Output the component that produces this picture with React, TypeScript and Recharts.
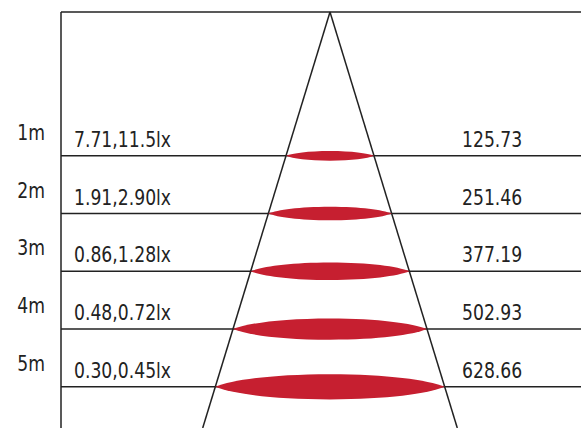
import { ComposedChart, ReferenceLine, Scatter, XAxis, YAxis } from 'recharts';

const distances = [1, 2, 3, 4, 5];
const luxLabels = ['7.71,11.5lx', '1.91,2.90lx', '0.86,1.28lx', '0.48,0.72lx', '0.30,0.45lx'];
const diameters = ['125.73', '251.46', '377.19', '502.93', '628.66'];

const rows = distances.map((d, i) => ({ x: 0, d, lux: luxLabels[i], dia: diameters[i] }));

const W = 581;
const H = 428;
const TOP = 12;
const LEFT = 61;
const Y_MIN = -1.49;
const Y_MAX = 5.713;
const PX = (H - TOP) / (Y_MAX - Y_MIN);
const X_MIN = -(330 - LEFT) / PX;
const X_MAX = X_MIN + (W - LEFT) / PX;
const SPREAD = 0.306;
const FONT = "'DejaVu Sans Condensed', 'DejaVu Sans', sans-serif";
const INK = '#222';
const RED = '#c61f30';
const SQUEEZE = 0.87;

// lens-ish ellipse, a bit pointed at the tips like the source art
const Spot = (props: any) => {
  const { cx, cy, payload } = props;
  const a = SPREAD * (payload.d - Y_MIN) * PX;
  const b = a * 0.11;
  const half = (s: number) =>
    `C${cx - a * 0.85},${cy + s * b * 0.55} ${cx - a * 0.5},${cy + s * b} ${cx},${cy + s * b} ` +
    `C${cx + a * 0.5},${cy + s * b} ${cx + a * 0.85},${cy + s * b * 0.55} ${cx + a},${cy}`;
  const top = `M${cx - a},${cy} ${half(-1)}`;
  const bottom =
    `C${cx + a * 0.85},${cy + b * 0.55} ${cx + a * 0.5},${cy + b} ${cx},${cy + b} ` +
    `C${cx - a * 0.5},${cy + b} ${cx - a * 0.85},${cy + b * 0.55} ${cx - a},${cy} Z`;
  return <path d={`${top} ${bottom}`} fill={RED} />;
};

const Squeezed = ({ x, y, anchor, children }: any) => (
  <text
    transform={`translate(${x},${y}) scale(${SQUEEZE},1)`}
    textAnchor={anchor || 'start'}
    fontFamily={FONT}
    fontSize={22}
    fill={INK}
  >
    {children}
  </text>
);

const RowLabel = (row: any) => (props: any) => {
  const vb = props.viewBox || {};
  return (
    <g>
      <Squeezed x={vb.x + 13} y={vb.y - 9}>{row.lux}</Squeezed>
      <Squeezed x={vb.x + 401} y={vb.y - 9}>{row.dia}</Squeezed>
    </g>
  );
};

const MeterTick = (props: any) => {
  const { x, y, payload } = props;
  return <Squeezed x={x} y={y - 16} anchor="end">{payload.value}m</Squeezed>;
};

export default function App() {
  return (
    <div style={{ position: 'absolute', left: 0, top: 0, background: '#fff' }}>
      <ComposedChart width={W} height={H} data={rows} margin={{ top: TOP, right: 0, bottom: 0, left: 0 }}>
        <XAxis dataKey="x" type="number" domain={[X_MIN, X_MAX]} allowDataOverflow hide />
        <YAxis
          dataKey="d"
          type="number"
          reversed
          width={LEFT}
          domain={[Y_MIN, Y_MAX]}
          allowDataOverflow
          ticks={distances}
          tickLine={false}
          tickSize={0}
          tickMargin={16}
          axisLine={{ stroke: INK, strokeWidth: 1.5 }}
          tick={<MeterTick />}
        />
        <ReferenceLine y={Y_MIN} stroke={INK} strokeWidth={1.5} ifOverflow="visible" />
        {rows.map((r) => (
          <ReferenceLine key={r.d} y={r.d} stroke={INK} strokeWidth={1.5} label={RowLabel(r)} />
        ))}
        <Scatter dataKey="d" shape={<Spot />} isAnimationActive={false} />
        <ReferenceLine
          segment={[{ x: 0, y: Y_MIN }, { x: -SPREAD * (Y_MAX - Y_MIN), y: Y_MAX }]}
          stroke={INK}
          strokeWidth={1.5}
          ifOverflow="visible"
        />
        <ReferenceLine
          segment={[{ x: 0, y: Y_MIN }, { x: SPREAD * (Y_MAX - Y_MIN), y: Y_MAX }]}
          stroke={INK}
          strokeWidth={1.5}
          ifOverflow="visible"
        />
      </ComposedChart>
    </div>
  );
}
